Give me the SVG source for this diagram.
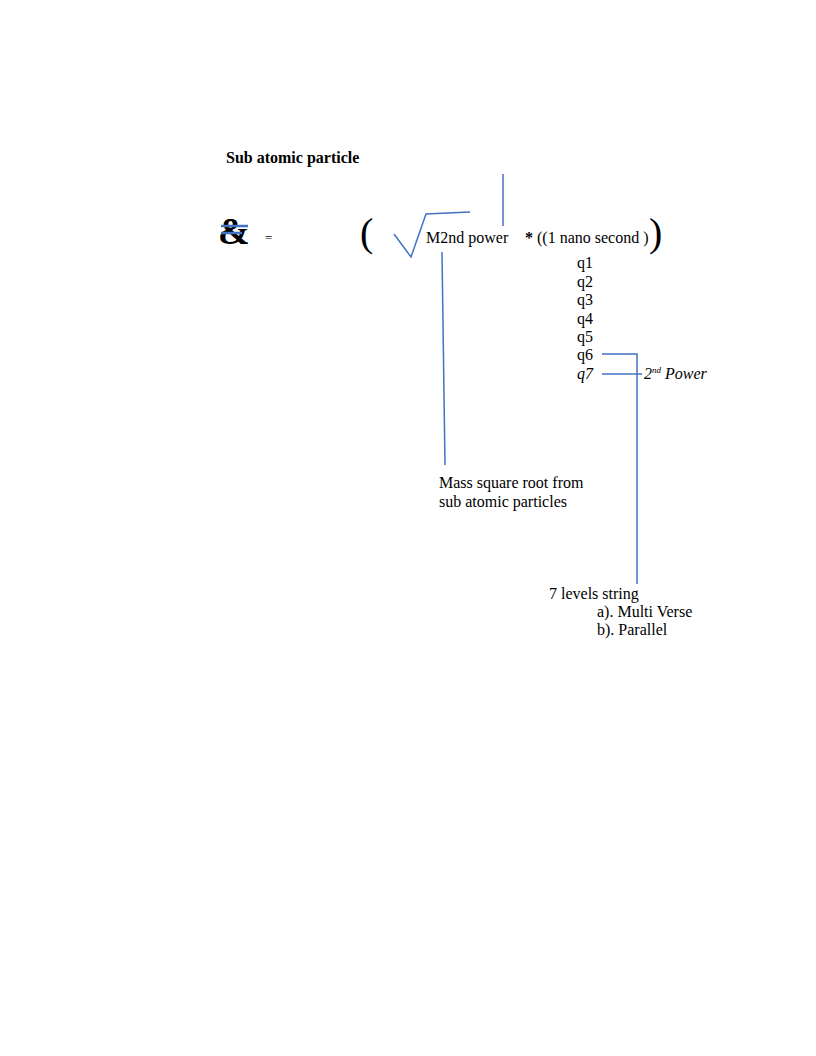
<svg xmlns="http://www.w3.org/2000/svg" width="816" height="1056" viewBox="0 0 816 1056">
<style>
text{font-family:"Liberation Serif","Times New Roman",serif;fill:#000}
.t{font-size:16px}
.b{font-weight:bold}
.i{font-style:italic}
.big{font-size:40px}
.ln{stroke:#4472c4;stroke-width:1.5;fill:none}
</style>
<rect width="816" height="1056" fill="#fff"/>
<g id="title"><text class="t b" x="226" y="163">Sub atomic particle</text></g>
<g id="amp">
<text class="b" x="218" y="244" style="font-size:38px">&amp;</text>
<line class="ln" x1="221" y1="226" x2="248" y2="226" style="stroke-width:2.5"/>
<line class="ln" x1="221" y1="233" x2="242" y2="233" style="stroke-width:2.5"/>
</g>
<g id="eq"><text x="265" y="242" style="font-size:13px">=</text></g>
<g id="formula">
<text class="big" x="360" y="246">(</text>
<path class="ln" d="M394,234 L411,257 L426,214 L470,212"/>
<text class="t" x="426" y="243">M2nd power</text>
<text class="t" x="525" y="243"><tspan class="b">*</tspan> ((1 nano second )</text>
<text class="big" x="649" y="246">)</text>
</g>
<g id="qlist">
<text class="t" x="577" y="268">q1</text>
<text class="t" x="577" y="287">q2</text>
<text class="t" x="577" y="305">q3</text>
<text class="t" x="577" y="324">q4</text>
<text class="t" x="577" y="342">q5</text>
<text class="t" x="577" y="360">q6</text>
<text class="t i" x="577" y="379">q7</text>
</g>
<g id="power"><text class="t i" x="644" y="379">2<tspan style="font-size:9px" dy="-6">nd</tspan><tspan dy="6"> Power</tspan></text></g>
<g id="mass"><text class="t" x="439" y="488">Mass square root from</text><text class="t" x="439" y="507">sub atomic particles</text></g>
<g id="levels">
<text class="t" x="549" y="599">7 levels string</text>
<text class="t" x="597" y="617">a). Multi Verse</text>
<text class="t" x="597" y="635">b). Parallel</text>
</g>
<g id="connectors">
<line class="ln" x1="503" y1="174" x2="503" y2="226"/>
<line class="ln" x1="442" y1="252" x2="445" y2="465"/>
<path class="ln" d="M602,354 L637,354 L637,584"/>
<line class="ln" x1="602" y1="374" x2="642" y2="374"/>
</g>
</svg>
